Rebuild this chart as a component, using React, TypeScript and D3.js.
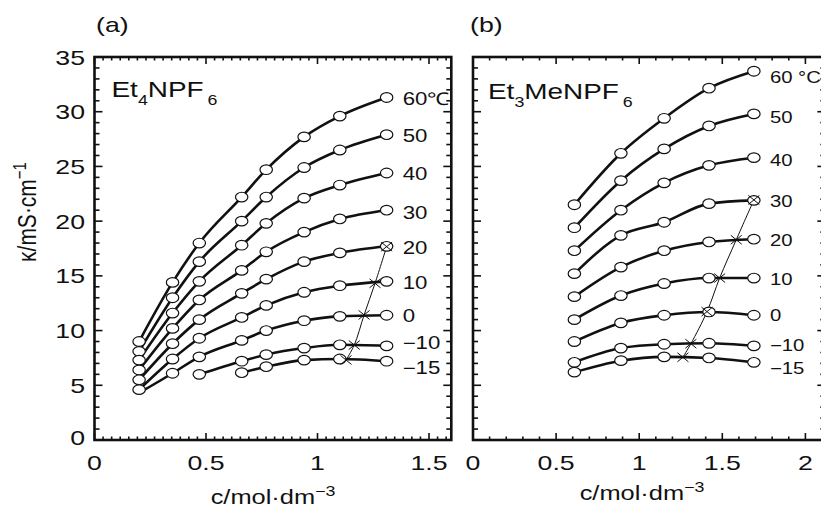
import React from "react";
import * as d3 from "d3";

// ---------- data ----------
const temps = ["60", "50", "40", "30", "20", "10", "0", "−10", "−15"];

const concA = [0.2, 0.35, 0.47, 0.66, 0.77, 0.94, 1.1, 1.31];
const kappaA: (number | null)[][] = [
  [9.0, 14.4, 18.0, 22.2, 24.7, 27.7, 29.6, 31.3],
  [8.1, 13.0, 16.3, 20.0, 22.2, 24.9, 26.5, 27.9],
  [7.3, 11.6, 14.5, 17.8, 19.8, 22.1, 23.3, 24.4],
  [6.4, 10.2, 12.8, 15.5, 17.2, 19.0, 20.2, 21.0],
  [5.5, 8.8, 11.0, 13.4, 14.7, 16.3, 17.1, 17.7],
  [4.6, 7.4, 9.3, 11.2, 12.3, 13.5, 14.1, 14.5],
  [4.3, 6.1, 7.6, 9.1, 10.0, 10.9, 11.3, 11.4],
  [null, null, 6.0, 7.2, 7.8, 8.4, 8.7, 8.6],
  [null, null, null, 6.15, 6.7, 7.3, 7.4, 7.2],
];
// points drawn on the line but without an open marker: [series, conc index]
const unmarkedA: [number, number][] = [[6, 0]];
const crossConcA = [1.31, 1.258, 1.209, 1.165, 1.128];
const crossKappaA = [17.67, 14.32, 11.43, 8.68, 7.31];

const concB = [0.61, 0.89, 1.15, 1.42, 1.69];
const kappaB: (number | null)[][] = [
  [21.5, 26.2, 29.4, 32.15, 33.7],
  [19.4, 23.7, 26.6, 28.7, 29.8],
  [17.3, 21.0, 23.5, 25.1, 25.8],
  [15.2, 18.7, 19.9, 21.6, 21.9],
  [13.1, 15.8, 17.3, 18.1, 18.35],
  [11.0, 13.2, 14.3, 14.8, 14.8],
  [9.0, 10.7, 11.4, 11.7, 11.4],
  [7.1, 8.4, 8.75, 8.84, 8.6],
  [6.2, 7.25, 7.6, 7.5, 7.1],
];
const unmarkedB: [number, number][] = [];
const crossConcB = [1.69, 1.584, 1.484, 1.408, 1.311, 1.263];
const crossKappaB = [21.94, 18.3, 14.8, 11.73, 8.8, 7.56];

const yTickLabels = [0, 5, 10, 15, 20, 25, 30, 35];
const xTickLabelsA = [0, 0.5, 1, 1.5];
const xTickLabelsB = [0, 0.5, 1, 1.5, 2];

// ---------- style ----------
const SX = 1.27;
const FONT = "'Liberation Sans', Arial, Helvetica, sans-serif";
const INK = "#111";

function SText(props: {
  x: number; y: number; size: number; anchor?: string; rotate?: boolean; children: any;
}) {
  const { x, y, size, anchor = "start", rotate = false, children } = props;
  const tr = rotate
    ? `translate(${x},${y}) rotate(-90) scale(1,${SX})`
    : `translate(${x},${y}) scale(${SX},1)`;
  return (
    <text transform={tr} fontSize={size} textAnchor={anchor} fontFamily={FONT} fill={INK}>
      {children}
    </text>
  );
}

const yScale = d3.scaleLinear().domain([0, 35]).range([440, 57]);

type PanelProps = {
  xs: d3.ScaleLinear<number, number>;
  xMax: number;
  minorStep: number;
  concs: number[];
  kappas: (number | null)[][];
  unmarked: [number, number][];
  crossC: number[];
  crossK: number[];
  labelDy: number[];
  labelSize: number;
  unit: string;
};

function Panel(p: PanelProps) {
  const { xs, xMax } = p;
  const x0 = xs(0);
  const x1 = xs(xMax);
  const y0 = yScale(0);
  const y1 = yScale(35);
  const line = d3
    .line<[number, number]>()
    .x((d) => xs(d[0]))
    .y((d) => yScale(d[1]))
    .curve(d3.curveMonotoneX);
  const crossLine = d3
    .line<[number, number]>()
    .x((d) => xs(d[0]))
    .y((d) => yScale(d[1]))
    .curve(d3.curveCatmullRom);

  const yT = d3.range(0, 35.0001, 1);
  const nx = Math.floor(xMax / p.minorStep + 1e-6);
  const xT = d3.range(0, nx + 1).map((i) => i * p.minorStep);
  const isMajX = (v: number) => Math.abs(v / 0.5 - Math.round(v / 0.5)) < 1e-6;

  const series = p.kappas.map((row) =>
    row
      .map((k, i) => (k == null ? null : ([p.concs[i], k] as [number, number])))
      .filter((d) => d != null) as [number, number][]
  );

  return (
    <g>
      {/* ticks */}
      {yT.map((v) => {
        const maj = v % 5 === 0;
        const len = maj ? 8 : 5;
        const yy = yScale(v);
        return (
          <g key={"y" + v}>
            <line x1={x0} x2={x0 + len} y1={yy} y2={yy} stroke={INK} strokeWidth={1.6} />
            <line x1={x1} x2={x1 - len} y1={yy} y2={yy} stroke={INK} strokeWidth={1.6} />
          </g>
        );
      })}
      {xT.map((v, i) => {
        const maj = isMajX(v);
        const len = maj ? 7 : 3.5;
        const xx = xs(v);
        return (
          <g key={"x" + i}>
            <line x1={xx} x2={xx} y1={y0} y2={y0 - len} stroke={INK} strokeWidth={1.6} />
            <line x1={xx} x2={xx} y1={y1} y2={y1 + len} stroke={INK} strokeWidth={1.6} />
          </g>
        );
      })}
      {/* frame */}
      <rect x={x0} y={y1} width={x1 - x0} height={y0 - y1} fill="none" stroke={INK} strokeWidth={2.6} />

      {/* series lines */}
      {series.map((s, i) => (
        <path key={"l" + i} d={line(s) || ""} fill="none" stroke={INK} strokeWidth={2.6} />
      ))}

      {/* thin line through crosses */}
      <path
        d={crossLine(p.crossC.map((c, i) => [c, p.crossK[i]] as [number, number])) || ""}
        fill="none"
        stroke={INK}
        strokeWidth={1}
      />

      {/* markers */}
      {p.kappas.map((row, si) =>
        row.map((k, ci) => {
          if (k == null) return null;
          if (p.unmarked.some(([a, b]) => a === si && b === ci)) return null;
          return (
            <ellipse
              key={"m" + si + "_" + ci}
              cx={xs(p.concs[ci])}
              cy={yScale(k)}
              rx={6.2}
              ry={4.8}
              fill="#fff"
              stroke={INK}
              strokeWidth={1.2}
            />
          );
        })
      )}

      {/* crosses */}
      {p.crossC.map((c, i) => {
        const cx = xs(c);
        const cy = yScale(p.crossK[i]);
        return (
          <g key={"c" + i} stroke={INK} strokeWidth={1}>
            <line x1={cx - 5.5} x2={cx + 5.5} y1={cy - 4.5} y2={cy + 4.5} />
            <line x1={cx - 5.5} x2={cx + 5.5} y1={cy + 4.5} y2={cy - 4.5} />
          </g>
        );
      })}

      {/* series labels */}
      {series.map((s, i) => {
        const last = s[s.length - 1];
        return (
          <SText
            key={"t" + i}
            x={xs(last[0]) + 16}
            y={yScale(last[1]) + p.labelDy[i] + p.labelSize * 0.36}
            size={p.labelSize}
          >
            {temps[i] + (i === 0 ? p.unit : "")}
          </SText>
        );
      })}
    </g>
  );
}

export default function App() {
  const xA = d3.scaleLinear().domain([0, 1.6]).range([94.5, 94.5 + 1.6 * 223]);
  const xB = d3.scaleLinear().domain([0, 2.12]).range([473, 473 + 2.12 * 166.2]);

  return (
    <div style={{ position: "absolute", left: 0, top: 0 }}>
      <svg width={821} height={509} viewBox="0 0 821 509" style={{ display: "block", background: "#fff" }}>
        <rect x={0} y={0} width={821} height={509} fill="#fff" />

        <Panel
          xs={xA}
          xMax={1.6}
          minorStep={0.5 / 13}
          concs={concA}
          kappas={kappaA}
          unmarked={unmarkedA}
          crossC={crossConcA}
          crossK={crossKappaA}
          labelDy={[1, 1, 1, 2, 1, 1, 0, -3, 6]}
          labelSize={17.5}
          unit="℃"
        />
        <Panel
          xs={xB}
          xMax={2.12}
          minorStep={0.1}
          concs={concB}
          kappas={kappaB}
          unmarked={unmarkedB}
          crossC={crossConcB}
          crossK={crossKappaB}
          labelDy={[6, 3, 3, 1, 1, 1, 0, -1, 6]}
          labelSize={16}
          unit=" °C"
        />

        {/* y tick labels */}
        {yTickLabels.map((v) => (
          <SText key={"yl" + v} x={85} y={yScale(v) + 7.5 - (v === 0 ? 3 : 0)} size={21} anchor="end">
            {String(v)}
          </SText>
        ))}
        {/* x tick labels */}
        {xTickLabelsA.map((v) => (
          <SText key={"xa" + v} x={xA(v)} y={470} size={21} anchor="middle">
            {String(v)}
          </SText>
        ))}
        {xTickLabelsB.map((v) => (
          <SText key={"xb" + v} x={xB(v)} y={470} size={21} anchor="middle">
            {String(v)}
          </SText>
        ))}

        {/* axis titles */}
        <SText x={273} y={504} size={20} anchor="middle">
          c/mol·dm<tspan fontSize={14} dy={-8}>−3</tspan>
        </SText>
        <SText x={642} y={500} size={20} anchor="middle">
          c/mol·dm<tspan fontSize={14} dy={-8}>−3</tspan>
        </SText>
        <SText x={36} y={212} size={21} anchor="middle" rotate>
          κ/mS·cm<tspan fontSize={15} dy={-8}>−1</tspan>
        </SText>

        {/* panel letters */}
        <SText x={96} y={32} size={21}>(a)</SText>
        <SText x={470} y={32} size={21}>(b)</SText>

        {/* salt names */}
        <SText x={111.5} y={97} size={22}>
          Et<tspan fontSize={14} dy={8}>4</tspan>
          <tspan dy={-8}>NPF</tspan>
          <tspan fontSize={14} dy={8} dx={3}>6</tspan>
        </SText>
        <SText x={488} y={98.5} size={22}>
          Et<tspan fontSize={14} dy={8}>3</tspan>
          <tspan dy={-8}>MeNPF</tspan>
          <tspan fontSize={14} dy={8} dx={3}>6</tspan>
        </SText>
      </svg>
    </div>
  );
}
